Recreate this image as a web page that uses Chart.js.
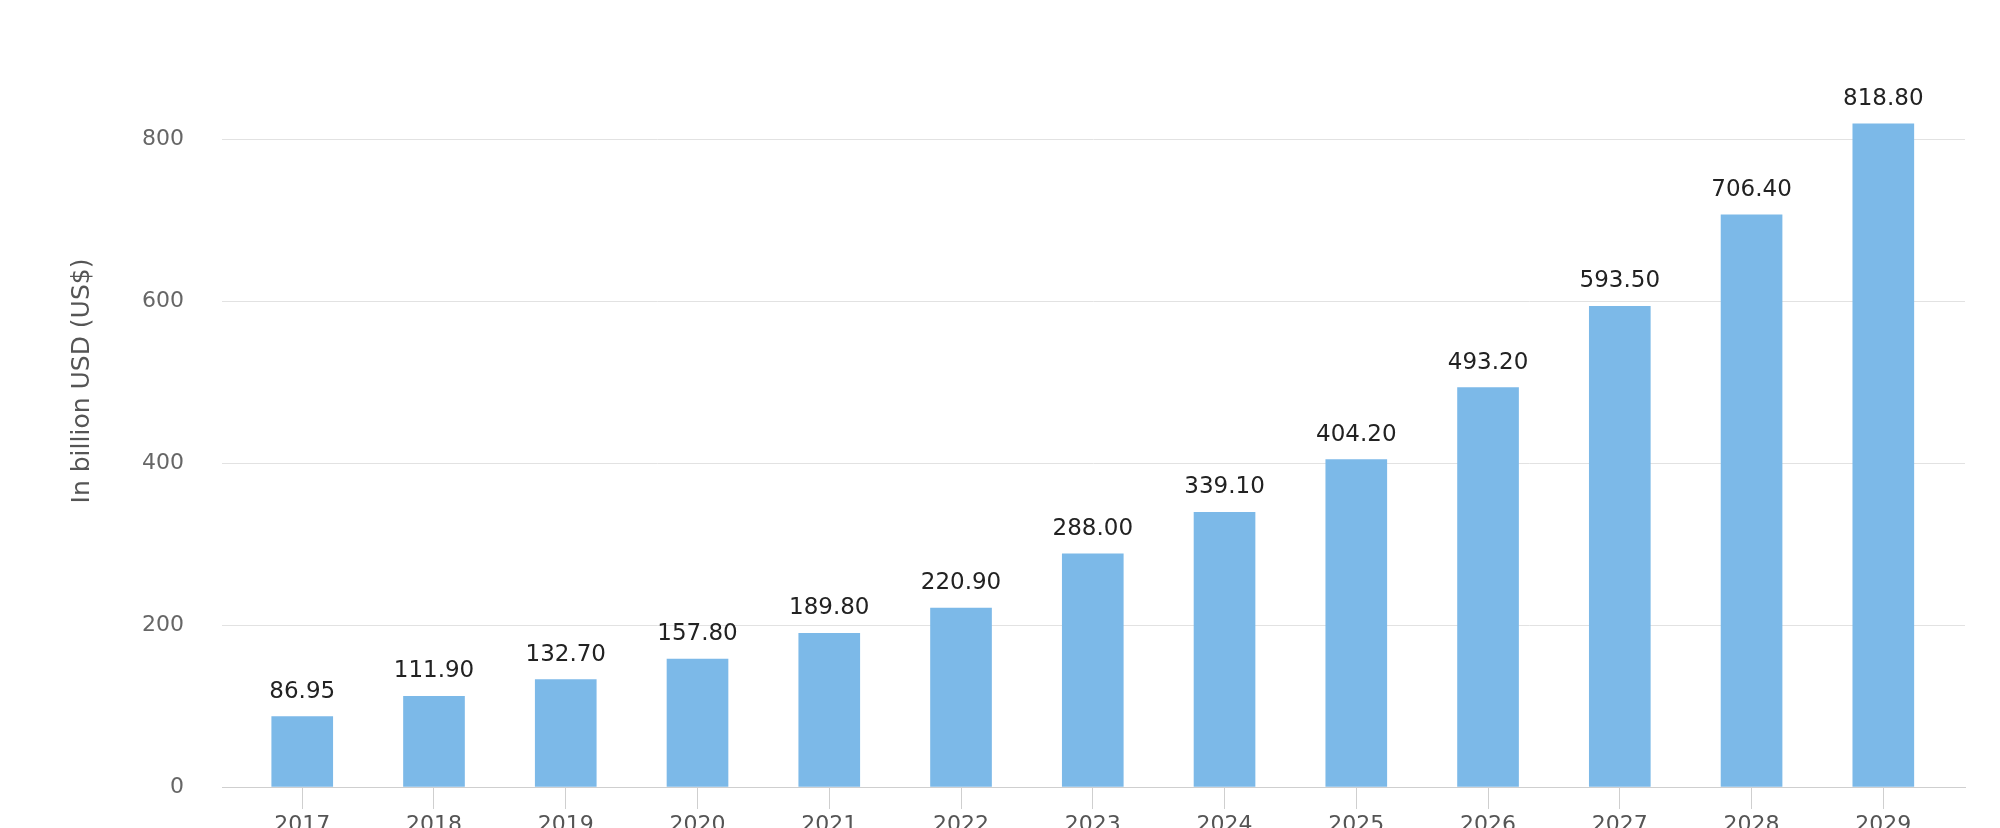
<!DOCTYPE html>
<html>
<head>
<meta charset="utf-8">
<script src="https://cdn.jsdelivr.net/npm/chart.js@4.4.1/dist/chart.umd.min.js"></script>
<style>
    body { margin: 0; background: #fff; }
    #frame { width: 2000px; height: 828px; overflow: hidden; position: relative; }
    #box { width: 2000px; height: 860px; }
</style>
</head>
<body>
<div id="frame"><div id="box"><canvas id="chart1"></canvas></div></div>
<script>
// 연도별 값
var years = [2017, 2018, 2019, 2020, 2021, 2022, 2023, 2024, 2025, 2026, 2027, 2028, 2029];
var values = [86.95, 111.90, 132.70, 157.80, 189.80, 220.90, 288.00, 339.10, 404.20, 493.20, 593.50, 706.40, 818.80];
var yTicks = [0, 200, 400, 600, 800];
var yTitle = 'In billion USD (US$)';

// 막대 위 값 표시
var valueLabels = {
    id: 'valueLabels',
    afterDatasetsDraw: function(chart) {
        var ctx = chart.ctx;
        var meta = chart.getDatasetMeta(0);
        ctx.save();
        ctx.font = '23px "DejaVu Sans"';
        ctx.fillStyle = '#222';
        ctx.textAlign = 'center';
        ctx.textBaseline = 'alphabetic';
        meta.data.forEach(function(bar, i) {
            ctx.fillText(values[i].toFixed(2), bar.x, bar.y - 19);
        });
        ctx.restore();
    }
};

// 세로축 제목
var axisTitle = {
    id: 'axisTitle',
    afterDraw: function(chart) {
        var ctx = chart.ctx;
        ctx.save();
        ctx.translate(82, chart.chartArea.bottom - 406);
        ctx.rotate(-Math.PI / 2);
        ctx.font = '25px "DejaVu Sans"';
        ctx.fillStyle = '#555';
        ctx.textAlign = 'center';
        ctx.textBaseline = 'middle';
        ctx.fillText(yTitle, 0, 0);
        ctx.restore();
    }
};

var points = years.map(function(y, i) { return { x: y, y: values[i] }; });

new Chart(document.getElementById('chart1'), {
    type: 'bar',
    data: {
        datasets: [{
            data: points,
            backgroundColor: '#7cb9e8',
            borderWidth: 0,
            barThickness: 61
        }]
    },
    options: {
        responsive: true,
        maintainAspectRatio: false,
        animation: false,
        layout: { padding: { top: 58, right: 35, left: 0, bottom: 0 } },
        plugins: {
            legend: { display: false },
            tooltip: { enabled: false }
        },
        scales: {
            x: {
                type: 'linear',
                offset: false,
                min: 2016.391,
                max: 2029.62,
                afterBuildTicks: function(s) { s.ticks = years.map(function(v) { return { value: v }; }); },
                afterFit: function(s) { s.height = 73; },
                grid: { offset: false, drawOnChartArea: false, drawTicks: true, tickLength: 22, color: '#cfcfcf' },
                border: { display: true, color: '#cfcfcf' },
                ticks: {
                    padding: 3,
                    color: '#555',
                    font: { family: 'DejaVu Sans', size: 22 },
                    callback: function(v) { return String(v); }
                }
            },
            y: {
                min: 0,
                max: 900,
                afterBuildTicks: function(s) { s.ticks = yTicks.map(function(v) { return { value: v }; }); },
                afterFit: function(s) { s.width = 222; },
                grid: { drawTicks: false, color: '#e2e2e2' },
                border: { display: false },
                ticks: {
                    padding: 38,
                    color: '#666',
                    font: { family: 'DejaVu Sans', size: 22 }
                }
            }
        }
    },
    plugins: [valueLabels, axisTitle]
});
</script>
</body>
</html>
